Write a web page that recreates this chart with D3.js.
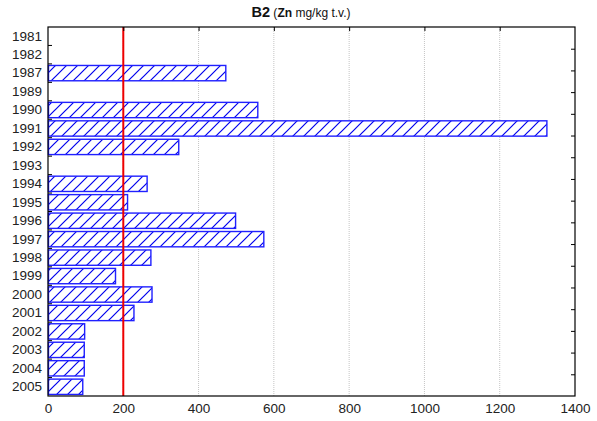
<!DOCTYPE html>
<html>
<head>
<meta charset="utf-8">
<script src="https://cdn.jsdelivr.net/npm/d3@7"></script>
<style>
  body { margin: 0; background: #fff; }
  text { font-family: "Liberation Sans", Arial, sans-serif; }
</style>
</head>
<body>
<script>
// anos y valores de Zn (mg/kg t.v.)
let years  = ["1981","1982","1987","1989","1990","1991","1992","1993","1994","1995",
              "1996","1997","1998","1999","2000","2001","2002","2003","2004","2005"];
let values = [null, null, 471, null, 556, 1324, 346, null, 262, 210,
              497, 572, 272, 178, 275, 227, 96, 95, 95, 91];
let xTicks = [0, 200, 400, 600, 800, 1000, 1200, 1400];
let limit  = 200;

let WIDTH = 597, HEIGHT = 421;
let margin = {top: 27, right: 22, bottom: 25, left: 48};

let svg = d3.select("body").append("svg")
            .attr("width", WIDTH)
            .attr("height", HEIGHT);

// patron de rayas diagonales
let pat = svg.append("defs").append("pattern")
             .attr("id", "hatch")
             .attr("patternUnits", "userSpaceOnUse")
             .attr("width", 11).attr("height", 11);
pat.append("rect").attr("width", 11).attr("height", 11).attr("fill", "#fff");
pat.append("path")
   .attr("d", "M-1,12 L12,-1 M-3,3 L3,-3 M8,14 L14,8")
   .attr("stroke", "#0000ee").attr("stroke-width", 1.2);

let x = d3.scaleLinear().domain([0, 1400]).range([margin.left, WIDTH - margin.right]);
let y = d3.scaleBand().domain(years).range([margin.top, HEIGHT - margin.bottom]).paddingInner(0.17).paddingOuter(0.085);
let yb = d3.scaleBand().domain(years).range([margin.top, HEIGHT - margin.bottom]);

// grilla
svg.append("g").selectAll("line")
   .data(xTicks.filter(t => t > 0 && t < 1400))
   .enter().append("line")
   .attr("x1", d => x(d)).attr("x2", d => x(d))
   .attr("y1", margin.top).attr("y2", HEIGHT - margin.bottom)
   .attr("stroke", "#c4c4c4").attr("stroke-width", 1)
   .attr("stroke-dasharray", "1,1");

// barras
svg.append("g").selectAll("rect")
   .data(years.map((yr, i) => ({yr: yr, v: values[i]})).filter(d => d.v != null))
   .enter().append("rect")
   .attr("x", x(0) + 0.5)
   .attr("y", d => y(d.yr))
   .attr("width", d => x(d.v) - x(0))
   .attr("height", y.bandwidth())
   .attr("fill", "url(#hatch)")
   .attr("stroke", "#2020ff")
   .attr("stroke-width", 1.4);

// linea de referencia
svg.append("line")
   .attr("x1", x(limit)).attr("x2", x(limit))
   .attr("y1", margin.top).attr("y2", HEIGHT - margin.bottom)
   .attr("stroke", "#ee0000").attr("stroke-width", 2);

// marco
svg.append("rect")
   .attr("x", margin.left).attr("y", margin.top)
   .attr("width", WIDTH - margin.left - margin.right)
   .attr("height", HEIGHT - margin.top - margin.bottom)
   .attr("fill", "none").attr("stroke", "#000").attr("stroke-width", 1.2);

// eje x abajo
let xAxis = svg.append("g")
   .attr("transform", `translate(0,${HEIGHT - margin.bottom})`)
   .call(d3.axisBottom(x).tickValues(xTicks).tickSize(0).tickPadding(7).tickFormat(d3.format("d")));
xAxis.select(".domain").remove();
xAxis.selectAll("text").attr("font-size", 13.5).attr("fill", "#222");

// ticks arriba (hacia adentro)
let topAxis = svg.append("g")
   .attr("transform", `translate(0,${margin.top})`)
   .call(d3.axisTop(x).tickValues(xTicks.slice(1, -1)).tickSize(-4).tickFormat(""));
topAxis.select(".domain").remove();

// eje y
let yAxis = svg.append("g")
   .attr("transform", `translate(${margin.left},0)`)
   .call(d3.axisLeft(y).tickSize(0).tickPadding(6));
yAxis.select(".domain").remove();
yAxis.selectAll("text").attr("font-size", 13.5).attr("fill", "#222");

// ticks izquierda en los bordes de categorias
svg.append("g").selectAll("line")
   .data(years.slice(1))
   .enter().append("line")
   .attr("x1", margin.left).attr("x2", margin.left + 4)
   .attr("y1", d => yb(d)).attr("y2", d => yb(d))
   .attr("stroke", "#000");

// ticks derecha
let yr = d3.scaleLinear().domain([0, 17]).range([margin.top, HEIGHT - margin.bottom]);
let rightAxis = svg.append("g")
   .attr("transform", `translate(${WIDTH - margin.right},0)`)
   .call(d3.axisRight(yr).tickValues(d3.range(1, 17)).tickSize(-4).tickFormat(""));
rightAxis.select(".domain").remove();

// titulo
let title = svg.append("text")
   .attr("x", 301).attr("y", 17)
   .attr("text-anchor", "middle")
   .attr("fill", "#111");
title.append("tspan").attr("font-weight", "bold").attr("font-size", 14.5).text("B2");
title.append("tspan").attr("font-size", 12).text(" (");
title.append("tspan").attr("font-size", 12).attr("font-weight", "bold").text("Zn");
title.append("tspan").attr("font-size", 12).text(" mg/kg t.v.)");
</script>
</body>
</html>
